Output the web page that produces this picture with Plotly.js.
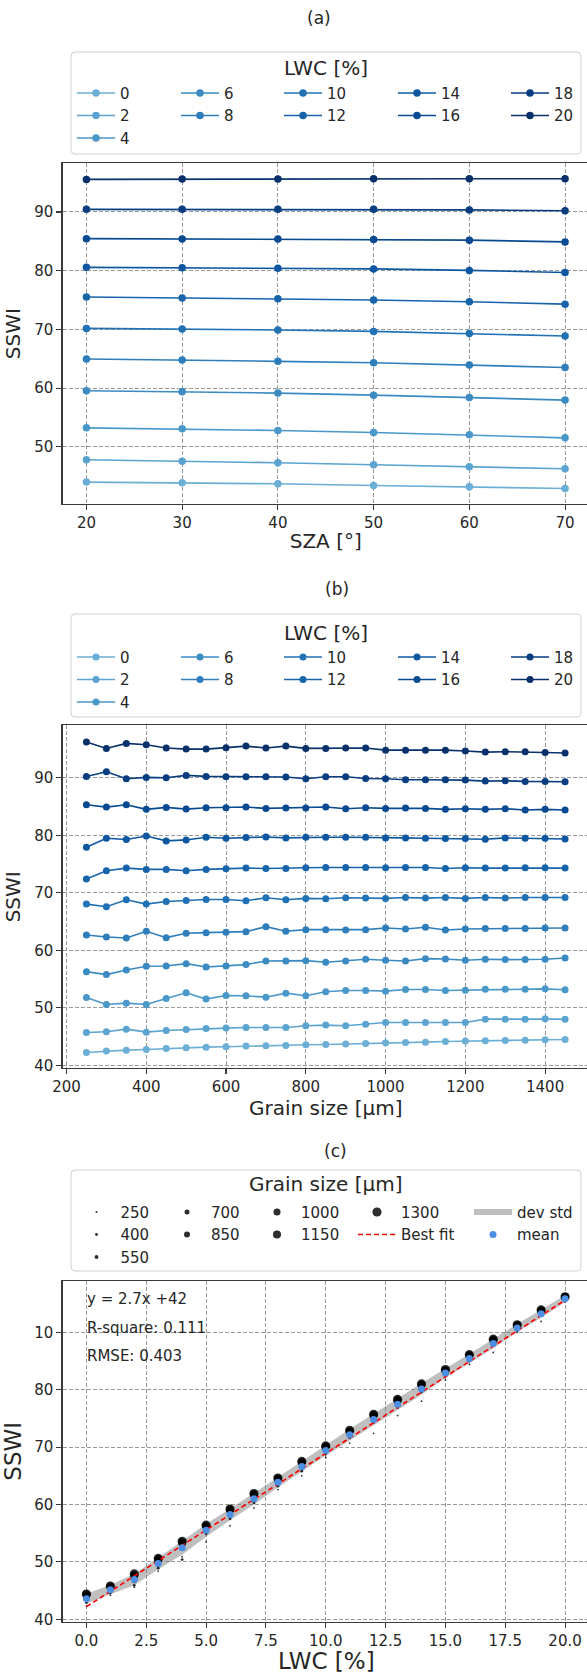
<!DOCTYPE html>
<html><head><meta charset="utf-8">
<script src="https://cdn.plot.ly/plotly-3.0.1.min.js"></script>
<style>html,body{margin:0;padding:0;overflow:hidden;background:#fff}#chart{width:600px;height:1673px}</style>
</head><body><div id="chart"></div>
<script>
// ---------- data ----------
const lwcLevels = [0, 2, 4, 6, 8, 10, 12, 14, 16, 18, 20];
const szaValues = [20, 30, 40, 50, 60, 70];
const szaLwc0  = [43.99, 43.90, 43.70, 43.40, 43.20, 42.90];
const szaLwc2  = [47.79, 47.56, 47.28, 46.94, 46.60, 46.26];
const szaLwc4  = [53.23, 53.06, 52.78, 52.44, 52.04, 51.53];
const szaLwc6  = [59.55, 59.40, 59.15, 58.80, 58.40, 57.96];
const szaLwc8  = [64.95, 64.80, 64.56, 64.33, 63.94, 63.50];
const szaLwc10 = [70.17, 70.06, 69.90, 69.66, 69.30, 68.87];
const szaLwc12 = [75.52, 75.35, 75.20, 75.00, 74.70, 74.30];
const szaLwc14 = [80.57, 80.50, 80.40, 80.30, 80.05, 79.70];
const szaLwc16 = [85.46, 85.40, 85.40, 85.30, 85.20, 84.90];
const szaLwc18 = [90.45, 90.45, 90.45, 90.45, 90.35, 90.20];
const szaLwc20 = [95.55, 95.60, 95.60, 95.65, 95.65, 95.65];

const grainSizes = [250, 300, 350, 400, 450, 500, 550, 600, 650, 700, 750, 800, 850, 900, 950, 1000, 1050, 1100, 1150, 1200, 1250, 1300, 1350, 1400, 1450];
const gsLwc0  = [42.24, 42.47, 42.64, 42.76, 42.93, 43.05, 43.16, 43.22, 43.34, 43.40, 43.45, 43.57, 43.63, 43.69, 43.80, 43.92, 43.98, 44.03, 44.15, 44.21, 44.27, 44.32, 44.38, 44.44, 44.50];
const gsLwc2  = [45.71, 45.83, 46.29, 45.77, 46.06, 46.23, 46.41, 46.47, 46.58, 46.58, 46.58, 46.87, 46.99, 46.87, 47.16, 47.45, 47.45, 47.45, 47.45, 47.45, 48.03, 48.03, 48.03, 48.09, 48.03];
const gsLwc4  = [51.80, 50.58, 50.81, 50.58, 51.62, 52.61, 51.51, 52.14, 52.09, 51.85, 52.55, 52.09, 52.78, 53.01, 53.01, 52.90, 53.19, 53.19, 53.01, 53.07, 53.24, 53.24, 53.24, 53.30, 53.13];
const gsLwc6  = [56.29, 55.77, 56.58, 57.22, 57.28, 57.68, 57.10, 57.28, 57.51, 58.15, 58.15, 58.20, 57.91, 58.15, 58.44, 58.26, 58.15, 58.55, 58.49, 58.26, 58.44, 58.38, 58.38, 58.44, 58.67];
const gsLwc8  = [62.67, 62.32, 62.14, 63.30, 62.20, 62.95, 63.07, 63.13, 63.24, 64.11, 63.30, 63.59, 63.59, 63.53, 63.59, 63.88, 63.71, 64.00, 63.53, 63.71, 63.77, 63.77, 63.77, 63.88, 63.88];
const gsLwc10 = [68.03, 67.57, 68.78, 68.03, 68.49, 68.67, 68.84, 68.84, 68.61, 69.13, 68.78, 69.02, 68.96, 69.13, 69.07, 69.02, 69.19, 69.07, 69.19, 69.02, 69.19, 69.07, 69.19, 69.19, 69.19];
const gsLwc12 = [72.38, 73.82, 74.29, 74.06, 74.06, 73.82, 74.06, 74.17, 74.29, 74.23, 74.23, 74.35, 74.40, 74.40, 74.40, 74.35, 74.40, 74.40, 74.23, 74.35, 74.29, 74.29, 74.35, 74.35, 74.29];
const gsLwc14 = [77.91, 79.48, 79.25, 79.88, 79.02, 79.19, 79.65, 79.48, 79.59, 79.71, 79.54, 79.65, 79.65, 79.65, 79.65, 79.54, 79.54, 79.48, 79.42, 79.42, 79.30, 79.54, 79.48, 79.48, 79.36];
const gsLwc16 = [85.31, 84.90, 85.31, 84.50, 84.84, 84.55, 84.79, 84.79, 84.90, 84.67, 84.73, 84.73, 84.90, 84.61, 84.79, 84.67, 84.73, 84.67, 84.50, 84.61, 84.50, 84.61, 84.38, 84.50, 84.38];
const gsLwc18 = [90.23, 91.04, 89.83, 90.06, 90.00, 90.41, 90.23, 90.17, 90.17, 90.17, 90.12, 89.83, 90.17, 90.17, 89.88, 89.83, 89.65, 89.65, 89.65, 89.59, 89.42, 89.48, 89.36, 89.36, 89.30];
const gsLwc20 = [96.20, 95.10, 95.97, 95.74, 95.16, 94.98, 94.98, 95.21, 95.50, 95.16, 95.50, 95.10, 95.10, 95.16, 95.16, 94.80, 94.80, 94.80, 94.80, 94.64, 94.46, 94.52, 94.52, 94.40, 94.29];

const lwcAll = [0, 1, 2, 3, 4, 5, 6, 7, 8, 9, 10, 11, 12, 13, 14, 15, 16, 17, 18, 19, 20];
const cGrainLabels = ['250', '400', '550', '700', '850', '1000', '1150', '1300'];
const cG250  = [42.3, 44.2, 45.6, 48.4, 50.9, 53.5, 56.3, 59.4, 62.6, 65.0, 68.2, 70.7, 72.4, 75.5, 78.0, 81.7, 84.4, 86.5, 90.0, 91.9, 95.3];
const cG400  = [42.9, 44.6, 45.9, 48.9, 50.4, 54.9, 57.5, 60.3, 63.2, 65.8, 68.8, 71.6, 74.3, 76.9, 79.6, 82.4, 85.0, 87.7, 90.3, 92.9, 95.5];
const cG550  = [43.4, 44.9, 46.6, 49.4, 52.3, 55.3, 58.1, 60.8, 63.6, 66.4, 69.2, 72.0, 74.8, 77.4, 80.1, 82.8, 85.3, 88.0, 90.6, 93.2, 95.7];
const cG700  = [43.7, 45.2, 47.0, 49.8, 52.8, 55.7, 58.5, 61.2, 64.0, 66.8, 69.6, 72.3, 75.1, 77.7, 80.5, 83.0, 85.6, 88.3, 90.8, 93.5, 95.9];
const cG850  = [44.0, 45.4, 47.3, 50.1, 53.0, 56.0, 58.8, 61.5, 64.2, 67.1, 69.8, 72.5, 75.3, 77.9, 80.7, 83.2, 85.8, 88.5, 91.0, 93.6, 96.0];
const cG1000 = [44.1, 45.6, 47.5, 50.3, 53.2, 56.2, 59.0, 61.7, 64.4, 67.3, 70.0, 72.7, 75.5, 78.1, 80.8, 83.3, 85.9, 88.6, 91.1, 93.7, 96.1];
const cG1150 = [44.3, 45.7, 47.7, 50.5, 53.4, 56.3, 59.1, 61.8, 64.5, 67.4, 70.1, 72.8, 75.6, 78.2, 80.9, 83.4, 86.0, 88.7, 91.2, 93.8, 96.2];
const cG1300 = [44.4, 45.8, 47.9, 50.6, 53.6, 56.4, 59.2, 61.9, 64.6, 67.5, 70.2, 72.9, 75.7, 78.3, 81.0, 83.5, 86.1, 88.8, 91.3, 93.9, 96.2];
const cMean  = [43.6, 45.16, 46.95, 49.73, 52.46, 55.5, 58.25, 61.0, 63.86, 66.64, 69.42, 72.14, 74.8, 77.46, 80.12, 82.9, 85.43, 88.03, 90.75, 93.24, 95.84];
const cStd   = [0.85, 0.8, 1.0, 1.0, 1.2, 1.1, 1.0, 1.0, 0.9, 0.9, 0.9, 1.0, 1.0, 1.0, 1.0, 0.8, 0.8, 0.8, 0.7, 0.7, 0.6];
const fitSlope = 2.67, fitIntercept = 42.2;
const statsLines = ['y = 2.7x +42', 'R-square: 0.111', 'RMSE: 0.403'];
const cYTickVals = [40, 50, 60, 70, 80, 90];
const cYTickText = ['40', '50', '60', '70', '80', '10'];

// ---------- style / layout helpers ----------
const W = 600, H = 1673;
const F = 'DejaVu Sans, sans-serif';
const TXT = '#262626';
const px2x = p => p / W;
const px2y = p => 1 - p / H;
const blues = ['#6baed6', '#5ba3d0', '#4a98c9', '#3b8bc2', '#2e7ebc', '#2171b5', '#1764ab', '#0d57a1', '#084a91', '#083d7f', '#08306b'];
const colOf = [0, 0, 0, 1, 1, 2, 2, 3, 3, 4, 4];
const legA = ['legend', 'legend2', 'legend3', 'legend4', 'legend5'];
const legB = ['legend6', 'legend7', 'legend8', 'legend9', 'legend10'];
const legC = ['legend11', 'legend12', 'legend13', 'legend14', 'legend15'];

const szaSeries = [szaLwc0, szaLwc2, szaLwc4, szaLwc6, szaLwc8, szaLwc10, szaLwc12, szaLwc14, szaLwc16, szaLwc18, szaLwc20];
const gsSeries = [gsLwc0, gsLwc2, gsLwc4, gsLwc6, gsLwc8, gsLwc10, gsLwc12, gsLwc14, gsLwc16, gsLwc18, gsLwc20];
const cSeries = [cG250, cG400, cG550, cG700, cG850, cG1000, cG1150, cG1300];
const cSizes = [1.8, 2.8, 3.9, 5.0, 6.0, 7.1, 8.1, 9.2];
const cCol = [0, 0, 0, 1, 1, 2, 2, 3];

const data = [];
lwcLevels.forEach((l, i) => {
  data.push({x: szaValues, y: szaSeries[i], xaxis: 'x', yaxis: 'y', type: 'scatter', mode: 'lines+markers',
    name: String(l), legend: legA[colOf[i]], line: {color: blues[i], width: 1.6}, marker: {color: blues[i], size: 7.5}});
});
lwcLevels.forEach((l, i) => {
  data.push({x: grainSizes, y: gsSeries[i], xaxis: 'x2', yaxis: 'y2', type: 'scatter', mode: 'lines+markers',
    name: String(l), legend: legB[colOf[i]], line: {color: blues[i], width: 1.6}, marker: {color: blues[i], size: 7}});
});
// panel c
const upper = cMean.map((m, i) => m + cStd[i]);
const lower = cMean.map((m, i) => m - cStd[i]);
data.push({x: lwcAll.concat(lwcAll.slice().reverse()), y: upper.concat(lower.slice().reverse()), xaxis: 'x3', yaxis: 'y3',
  type: 'scatter', mode: 'none', fill: 'toself', fillcolor: 'rgba(128,128,128,0.5)',
  name: 'dev std', legend: legC[4], hoverinfo: 'skip'});
cSeries.forEach((s, i) => {
  data.push({x: lwcAll, y: s, xaxis: 'x3', yaxis: 'y3', type: 'scatter', mode: 'markers', name: cGrainLabels[i],
    legend: legC[cCol[i]], marker: {color: 'rgba(0,0,0,0.82)', size: cSizes[i], line: {width: 0}}});
});
const fitX = [lwcAll[0], lwcAll[lwcAll.length - 1]];
data.push({x: fitX, y: fitX.map(v => fitSlope * v + fitIntercept), xaxis: 'x3', yaxis: 'y3', type: 'scatter', mode: 'lines',
  name: 'Best fit', legend: legC[3], line: {color: '#ff0000', width: 1.6, dash: '5px,3px'}});
data.push({x: lwcAll, y: cMean, xaxis: 'x3', yaxis: 'y3', type: 'scatter', mode: 'markers', name: 'mean',
  legend: legC[4], marker: {color: '#4a8fe4', size: 7}});

const axisCommon = {showline: true, mirror: true, linecolor: '#3a3a3a', linewidth: 1.1, ticks: 'outside', ticklen: 5,
  tickwidth: 1.1, tickcolor: '#3a3a3a', showgrid: true, gridcolor: '#9a9a9a', gridwidth: 1, griddash: '4px,2px',
  zeroline: false, tickfont: {family: F, size: 15, color: TXT}, automargin: false, fixedrange: true};
const xDom = [px2x(62.5), px2x(589)];
const titleFont = {family: F, size: 20, color: TXT};

const layout = {
  width: W, height: H, margin: {l: 0, r: 0, t: 0, b: 0}, paper_bgcolor: '#fff', plot_bgcolor: '#fff',
  font: {family: F, color: TXT}, showlegend: true,
  xaxis: Object.assign({}, axisCommon, {domain: xDom, anchor: 'y', range: [17.5, 72.5], dtick: 10, tick0: 0,
    title: {text: 'SZA [°]', font: titleFont, standoff: 2}}),
  yaxis: Object.assign({}, axisCommon, {domain: [px2y(504), px2y(163.3)], anchor: 'x', range: [40.26, 98.29], dtick: 10, tick0: 0,
    title: {text: 'SSWI', font: titleFont, standoff: 8}}),
  xaxis2: Object.assign({}, axisCommon, {domain: xDom, anchor: 'y2', range: [190, 1510], dtick: 200, tick0: 0,
    title: {text: 'Grain size [µm]', font: titleFont, standoff: 2}}),
  yaxis2: Object.assign({}, axisCommon, {domain: [px2y(1068.2), px2y(725.4)], anchor: 'x2', range: [39.5, 99.1], dtick: 10, tick0: 0,
    title: {text: 'SSWI', font: titleFont, standoff: 8}}),
  xaxis3: Object.assign({}, axisCommon, {domain: xDom, anchor: 'y3', range: [-1, 21], dtick: 2.5, tick0: 0, tickformat: '.1f'}),
  yaxis3: Object.assign({}, axisCommon, {domain: [px2y(1621.7), px2y(1281)], anchor: 'x3', range: [39.58, 98.94],
    tickmode: 'array', tickvals: cYTickVals, ticktext: cYTickText, title: {text: 'SSWI', font: {family: F, size: 23, color: TXT}, standoff: 6}}),
  shapes: [], annotations: []
};

function legendCfg(xpx, ytop) {
  return {x: px2x(xpx), y: px2y(ytop), xref: 'paper', yref: 'paper', xanchor: 'left', yanchor: 'top', orientation: 'v',
    bgcolor: 'rgba(0,0,0,0)', borderwidth: 0, tracegroupgap: 0, itemwidth: 38,
    font: {family: F, size: 15, color: TXT}, itemclick: false, itemdoubleclick: false};
}
const abCols = [72, 176, 279, 393, 506];
const cCols = [72.5, 163, 253, 353, 469];
legA.forEach((n, k) => layout[n] = legendCfg(abCols[k], 93 - 16.25));
legB.forEach((n, k) => layout[n] = legendCfg(abCols[k], 657 - 16.25));
legC.forEach((n, k) => layout[n] = legendCfg(cCols[k], 1212 - 16.25));

function roundRect(x0, y0, x1, y1, r) {
  const X = p => px2x(p), Y = p => px2y(p);
  return `M${X(x0 + r)},${Y(y0)} L${X(x1 - r)},${Y(y0)} Q${X(x1)},${Y(y0)} ${X(x1)},${Y(y0 + r)} ` +
    `L${X(x1)},${Y(y1 - r)} Q${X(x1)},${Y(y1)} ${X(x1 - r)},${Y(y1)} L${X(x0 + r)},${Y(y1)} ` +
    `Q${X(x0)},${Y(y1)} ${X(x0)},${Y(y1 - r)} L${X(x0)},${Y(y0 + r)} Q${X(x0)},${Y(y0)} ${X(x0 + r)},${Y(y0)} Z`;
}
[[71, 52, 581, 154], [71, 614, 581, 717], [71, 1170, 581, 1271]].forEach(b => {
  layout.shapes.push({type: 'path', xref: 'paper', yref: 'paper', layer: 'below', path: roundRect(b[0], b[1], b[2], b[3], 4),
    fillcolor: 'rgba(255,255,255,0.8)', line: {color: '#d0d0d0', width: 1}});
});
function ann(text, xpx, ypx, size, xanchor) {
  layout.annotations.push({text: text, x: px2x(xpx), y: px2y(ypx), xref: 'paper', yref: 'paper', showarrow: false,
    xanchor: xanchor || 'center', yanchor: 'middle', font: {family: F, size: size, color: TXT}});
}
ann('(a)', 319, 18, 17);
ann('(b)', 337, 589, 17);
ann('(c)', 335, 1151, 17);
ann('LWC [%]', 326, 68, 20);
ann('LWC [%]', 326, 633, 20);
ann('Grain size [µm]', 326, 1184, 20);
ann('LWC [%]', 326, 1661, 23);   // x-axis title of panel (c)
statsLines.forEach((t, i) => ann(t, 85, [1299, 1328, 1356][i], 15, 'left'));

Plotly.newPlot('chart', data, layout, {staticPlot: true, displayModeBar: false});
</script></body></html>
